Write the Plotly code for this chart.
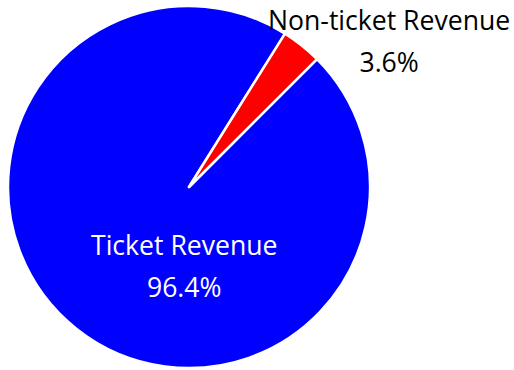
import plotly.graph_objects as go

labels = ["Ticket Revenue", "Non-ticket Revenue"]
values = [96.4, 3.6]
colors = ["#0000FF", "#FF0000"]
label_colors = ["white", "black"]

fig = go.Figure(go.Pie(
    labels=labels,
    values=values,
    sort=False,
    direction="clockwise",
    rotation=45,
    marker=dict(colors=colors, line=dict(color="white", width=2.5)),
    textinfo="none",
    domain=dict(x=[8/514, 370/514], y=[2/370, 364/370]),
    showlegend=False,
    hoverinfo="label+percent",
))

total = sum(values)
label_pos = [(184/514, 1 - 266/370), (389/514, 1 - 41/370)]
for lab, val, col, (px, py) in zip(labels, values, label_colors, label_pos):
    fig.add_annotation(
        x=px, y=py, xref="paper", yref="paper",
        xanchor="center", yanchor="middle",
        showarrow=False,
        text=(f"<span style='font-size:26.6px'>{lab}</span><br>"
              f"<span style='font-size:26.6px'>{val / total * 100:.1f}%</span>"),
        font=dict(color=col, size=32, family="Open Sans"),
    )

fig.update_layout(
    width=514, height=370,
    margin=dict(l=0, r=0, t=0, b=0),
    paper_bgcolor="white",
    plot_bgcolor="white",
    font=dict(family="Open Sans"),
)

fig.write_html("out.html")
